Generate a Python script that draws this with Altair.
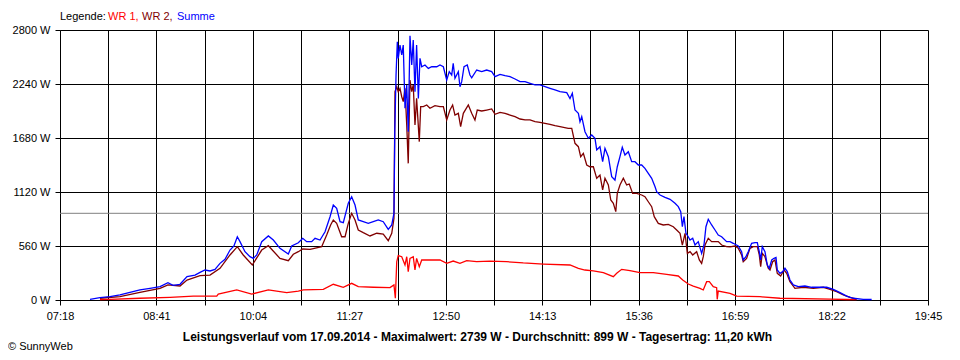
import altair as alt
import pandas as pd

# ---------------- data ----------------
X_LABELS = ["07:18", "08:41", "10:04", "11:27", "12:50", "14:13", "15:36", "16:59", "18:22", "19:45"]
Y_TICKS = [0, 560, 1120, 1680, 2240, 2800]
AVERAGE_W = 899
TITLE = "Leistungsverlauf vom 17.09.2014 - Maximalwert: 2739 W - Durchschnitt: 899 W - Tagesertrag: 11,20 kWh"
LEGEND_NAMES = ["WR 1", "WR 2", "Summe"]
SERIES_COLORS = ["#ff0000", "#800000", "#0000ff"]
COPYRIGHT = "© SunnyWeb"

# (minutes since midnight, watts)
WR1 = [
    (472.4, 3), (481.0, 7), (506.8, 18), (532.7, 28), (552.7, 41), (572.9, 41), (574.2, 62),
    (590.1, 104), (603.0, 62), (617.3, 104), (633.1, 76), (643.1, 93), (647.4, 104),
    (664.6, 111), (673.2, 163), (681.8, 132), (689.0, 173), (694.7, 138), (707.6, 132),
    (722.0, 128), (725.4, 156), (726.6, 18), (727.8, 397), (729.1, 460), (732.1, 449),
    (734.9, 363), (736.4, 449), (737.7, 294), (739.2, 432), (742.0, 449), (743.5, 311),
    (744.9, 432), (747.2, 346), (749.3, 415), (756.4, 415), (765.0, 415), (770.8, 380),
    (776.4, 404), (782.2, 380), (788.0, 408), (796.6, 397), (808.1, 404), (822.4, 397),
    (836.7, 384), (854.0, 373), (876.9, 363), (884.1, 329), (889.8, 311), (897.0, 301),
    (905.6, 283), (914.2, 242), (917.1, 277), (921.4, 318), (928.5, 304), (937.1, 283),
    (948.6, 283), (960.1, 266), (970.1, 249), (973.9, 207), (978.7, 166), (983.0, 145),
    (988.8, 121), (991.6, 104), (994.5, 190), (996.8, 190), (1000.2, 138), (1003.1, 128),
    (1003.6, 7), (1004.5, 93), (1014.6, 69), (1020.4, 41), (1040.4, 34), (1057.6, 18),
    (1100.7, 10), (1115.0, 5), (1123.6, 3),
]

WR2 = [
    (472.4, 18), (489.6, 34), (506.8, 80), (524.1, 121), (530.9, 156), (541.3, 145),
    (547.3, 207), (558.5, 252), (567.1, 259), (575.7, 329), (584.3, 467), (590.6, 553),
    (595.7, 467), (603.5, 363), (611.6, 518), (617.3, 563), (627.3, 432), (634.5, 408),
    (638.8, 474), (643.1, 501), (646.9, 529), (653.2, 526), (663.2, 553), (667.5, 674),
    (670.9, 778), (673.2, 830), (676.1, 795), (680.4, 656), (683.3, 656), (686.1, 795),
    (689.0, 899), (691.9, 830), (694.7, 726), (699.0, 698), (704.8, 664), (710.6, 692),
    (716.2, 684), (720.5, 615), (723.5, 692), (725.4, 847), (726.3, 2160), (727.8, 2212),
    (729.1, 2160), (730.6, 2195), (732.1, 2108), (733.4, 2057), (734.9, 2195), (736.4, 1815),
    (737.7, 1417), (739.2, 2281), (740.7, 2160), (742.0, 2230), (743.5, 1815), (744.9, 2091),
    (747.2, 1642), (748.4, 2005), (750.7, 2005), (753.6, 2022), (756.4, 1988), (760.7, 2015),
    (765.0, 2005), (767.9, 2005), (770.8, 1867), (773.6, 1970), (775.9, 2022), (777.9, 1918),
    (780.8, 1936), (782.8, 1798), (785.1, 1936), (789.4, 2022), (792.3, 1936), (795.1, 1867),
    (797.1, 1970), (800.9, 1960), (805.2, 1970), (809.5, 1981), (812.4, 1926), (816.7, 1946),
    (821.0, 1936), (825.3, 1918), (829.6, 1901), (833.9, 1877), (838.2, 1867), (842.5, 1867),
    (846.8, 1849), (851.1, 1843), (855.4, 1832), (859.7, 1822), (864.0, 1808), (868.3, 1798),
    (875.4, 1780), (878.4, 1780), (881.2, 1625), (884.1, 1590), (886.1, 1486), (888.4, 1521),
    (891.3, 1400), (894.1, 1382), (897.0, 1382), (899.9, 1262), (902.7, 1296), (905.0, 1141),
    (907.0, 1262), (909.9, 1193), (912.0, 1037), (914.2, 1003), (916.3, 916), (917.6, 1106),
    (919.9, 1193), (922.8, 1262), (925.7, 1193), (927.9, 1203), (930.8, 1106), (934.3, 1106),
    (938.6, 1089), (941.4, 1071), (944.3, 1019), (947.2, 968), (949.4, 864), (952.9, 795),
    (957.2, 778), (961.5, 785), (965.8, 760), (968.7, 726), (971.6, 692), (973.6, 570),
    (975.9, 692), (977.9, 484), (980.2, 501), (982.5, 467), (985.9, 501), (988.2, 415),
    (990.2, 380), (991.6, 449), (993.1, 570), (995.9, 640), (998.8, 605), (1001.7, 605),
    (1004.5, 605), (1007.4, 570), (1011.7, 553), (1014.6, 550), (1018.9, 560), (1021.7, 536),
    (1024.6, 467), (1026.0, 397), (1028.9, 432), (1031.8, 536), (1034.6, 553), (1038.1, 553),
    (1039.8, 467), (1041.0, 346), (1042.4, 484), (1044.7, 449), (1047.5, 329), (1049.0, 311),
    (1051.3, 397), (1053.3, 415), (1055.3, 277), (1058.2, 249), (1061.1, 311), (1063.4, 277),
    (1066.2, 190), (1070.5, 121), (1077.7, 132), (1086.3, 121), (1094.9, 132), (1100.7, 111),
    (1106.4, 86), (1112.1, 52), (1117.9, 28), (1123.6, 10),
]

SUMME = [
    (463.8, 7), (472.4, 24), (481.0, 34), (489.6, 52), (498.2, 80), (506.8, 104), (515.5, 121),
    (524.1, 138), (530.9, 180), (535.2, 152), (541.3, 163), (547.3, 242), (554.2, 259),
    (558.5, 287), (562.8, 311), (567.1, 301), (571.4, 318), (575.7, 380), (580.0, 422),
    (584.3, 518), (587.7, 560), (590.6, 656), (592.9, 605), (597.2, 501), (601.5, 449),
    (604.4, 432), (607.3, 467), (611.6, 605), (617.3, 664), (621.6, 622), (627.3, 536),
    (634.5, 477), (637.4, 560), (643.1, 594), (646.9, 640), (650.3, 605), (654.6, 605),
    (657.5, 640), (661.8, 622), (666.1, 708), (670.4, 864), (673.2, 985), (676.1, 951),
    (679.0, 812), (681.8, 802), (686.1, 1003), (689.0, 1071), (691.9, 985), (694.7, 830),
    (699.0, 812), (703.3, 795), (707.6, 812), (711.9, 830), (716.2, 812), (720.5, 733),
    (723.5, 778), (725.4, 899), (725.7, 1227), (726.1, 1745), (727.2, 2333), (728.3, 2678),
    (729.1, 2506), (730.6, 2644), (732.1, 2541), (733.4, 2644), (734.9, 1988), (736.4, 2230),
    (737.7, 1745), (739.2, 2739), (740.7, 2437), (742.0, 2696), (743.5, 2160), (744.9, 2644),
    (746.4, 2091), (747.8, 2506), (749.3, 2419), (752.1, 2437), (755.0, 2402), (757.9, 2419),
    (762.2, 2419), (765.0, 2437), (767.9, 2419), (770.8, 2281), (773.0, 2368), (775.1, 2333),
    (776.4, 2454), (777.9, 2299), (780.8, 2368), (782.2, 2212), (783.7, 2264), (785.7, 2419),
    (788.5, 2437), (790.8, 2333), (792.3, 2305), (796.6, 2385), (800.9, 2368), (805.2, 2385),
    (809.5, 2368), (812.4, 2316), (816.7, 2340), (821.0, 2326), (825.3, 2316), (829.6, 2292),
    (833.9, 2264), (838.2, 2264), (842.5, 2247), (846.8, 2230), (851.1, 2230), (855.4, 2212),
    (859.7, 2195), (864.0, 2178), (868.3, 2160), (874.1, 2150), (876.9, 2090), (878.9, 2143),
    (881.2, 1970), (884.1, 1936), (885.5, 1849), (887.0, 1901), (889.8, 1745), (892.7, 1677),
    (895.6, 1711), (898.4, 1677), (899.9, 1556), (902.7, 1590), (905.0, 1434), (907.0, 1573),
    (909.9, 1486), (912.8, 1279), (915.6, 1244), (917.6, 1382), (919.9, 1486), (921.9, 1583),
    (924.2, 1504), (927.1, 1538), (930.0, 1434), (932.8, 1434), (935.7, 1400), (938.6, 1400),
    (941.4, 1365), (944.3, 1313), (947.2, 1262), (950.1, 1175), (951.5, 1123), (954.4, 1089),
    (958.7, 1065), (963.0, 1044), (967.3, 1003), (970.1, 968), (972.2, 916), (973.6, 760),
    (975.0, 864), (976.7, 692), (978.7, 656), (980.2, 622), (982.5, 640), (984.5, 570),
    (987.3, 605), (990.2, 484), (992.2, 570), (993.9, 760), (995.9, 837), (998.8, 778),
    (1001.7, 726), (1004.5, 674), (1007.4, 656), (1011.7, 605), (1014.6, 605), (1017.4, 588),
    (1021.7, 560), (1024.6, 501), (1026.0, 415), (1028.3, 449), (1030.3, 501), (1033.2, 588),
    (1036.1, 594), (1038.1, 594), (1039.8, 501), (1041.0, 415), (1042.4, 553), (1044.7, 501),
    (1046.7, 363), (1048.4, 329), (1050.5, 415), (1052.5, 432), (1054.2, 442), (1055.3, 311),
    (1057.6, 277), (1060.0, 294), (1061.9, 329), (1063.9, 294), (1066.2, 207), (1069.1, 156),
    (1073.4, 138), (1079.1, 145), (1084.9, 132), (1092.1, 132), (1097.8, 132), (1103.5, 111),
    (1109.3, 76), (1115.0, 41), (1120.7, 18), (1129.3, 7), (1136.5, 5),
]

# ---------------- chart ----------------
FONT = "Liberation Sans"


def to_min(s):
    h, m = s.split(":")
    return int(h) * 60 + int(m)


label_min = [to_min(s) for s in X_LABELS]
step = (label_min[1] - label_min[0]) / 2
grid_vals = [label_min[0] + step * i for i in range(2 * (len(label_min) - 1) + 1)]
start = label_min[0]
period = label_min[1] - label_min[0]

x_label_expr = (
    f"(datum.value - {start}) % {period} == 0 ? "
    "format(floor(datum.value / 60), '02d') + ':' + format(datum.value % 60, '02d') : ''"
)

x_scale = alt.Scale(domain=[label_min[0], label_min[-1]], nice=False, zero=False)
y_scale = alt.Scale(domain=[Y_TICKS[0], Y_TICKS[-1]], nice=False)

x_axis = alt.Axis(
    values=grid_vals, labelExpr=x_label_expr, title=None, grid=True, gridColor="black",
    gridOpacity=1, gridWidth=1, domainColor="black", tickColor="black", tickSize=5,
    labelPadding=5, labelFont=FONT, labelFontSize=11, labelColor="black",
    labelFlush=False, labelOverlap=False, labelBaseline="top",
)
y_axis = alt.Axis(
    values=Y_TICKS, labelExpr="datum.value + ' W'", title=None, grid=True, gridColor="black",
    gridOpacity=1, gridWidth=1, domainColor="black", tickColor="black", tickSize=5,
    labelPadding=5, labelFont=FONT, labelFontSize=11, labelColor="black",
    labelOverlap=False, labelFlush=False,
)


def series_df(pairs):
    return pd.DataFrame({"t": [p[0] for p in pairs], "w": [p[1] for p in pairs]})


def line_layer(pairs, color):
    return alt.Chart(series_df(pairs)).mark_line(color=color, strokeWidth=1.3).encode(
        x=alt.X("t:Q", scale=x_scale, axis=x_axis),
        y=alt.Y("w:Q", scale=y_scale, axis=y_axis),
        order="t:Q",
    )


avg_rule = alt.Chart(pd.DataFrame({"w": [AVERAGE_W]})).mark_rule(
    color="#808080", strokeWidth=1
).encode(y=alt.Y("w:Q", scale=y_scale, axis=y_axis))

lines = [line_layer(s, c) for s, c in zip([WR1, WR2, SUMME], SERIES_COLORS)]


def text_layer(txt, x, y, color="black", bold=False, align="left", size=11):
    return alt.Chart(pd.DataFrame({"s": [txt]})).mark_text(
        font=FONT, fontSize=size, fontWeight="bold" if bold else "normal",
        color=color, align=align, baseline="middle",
    ).encode(text="s:N", x=alt.value(x), y=alt.value(y))


legend_x = [48, 82, 117]
texts = [text_layer("Legende:", 0, -13)]
for i, (name, col) in enumerate(zip(LEGEND_NAMES, SERIES_COLORS)):
    label = name + ("," if i < len(LEGEND_NAMES) - 1 else "")
    texts.append(text_layer(label, legend_x[i], -13, color=col))
texts.append(text_layer(TITLE, 417.5, 307, bold=True, align="center", size=12))
texts.append(text_layer(COPYRIGHT, -52, 317))

chart = alt.layer(avg_rule, *lines, *texts).properties(
    width=868, height=270,
    padding={"left": 52, "top": 22, "right": 24, "bottom": 58},
    autosize="none", background="white",
).configure_view(stroke=None)

chart.save("out.html", embed_options={"renderer": "svg", "actions": False})
